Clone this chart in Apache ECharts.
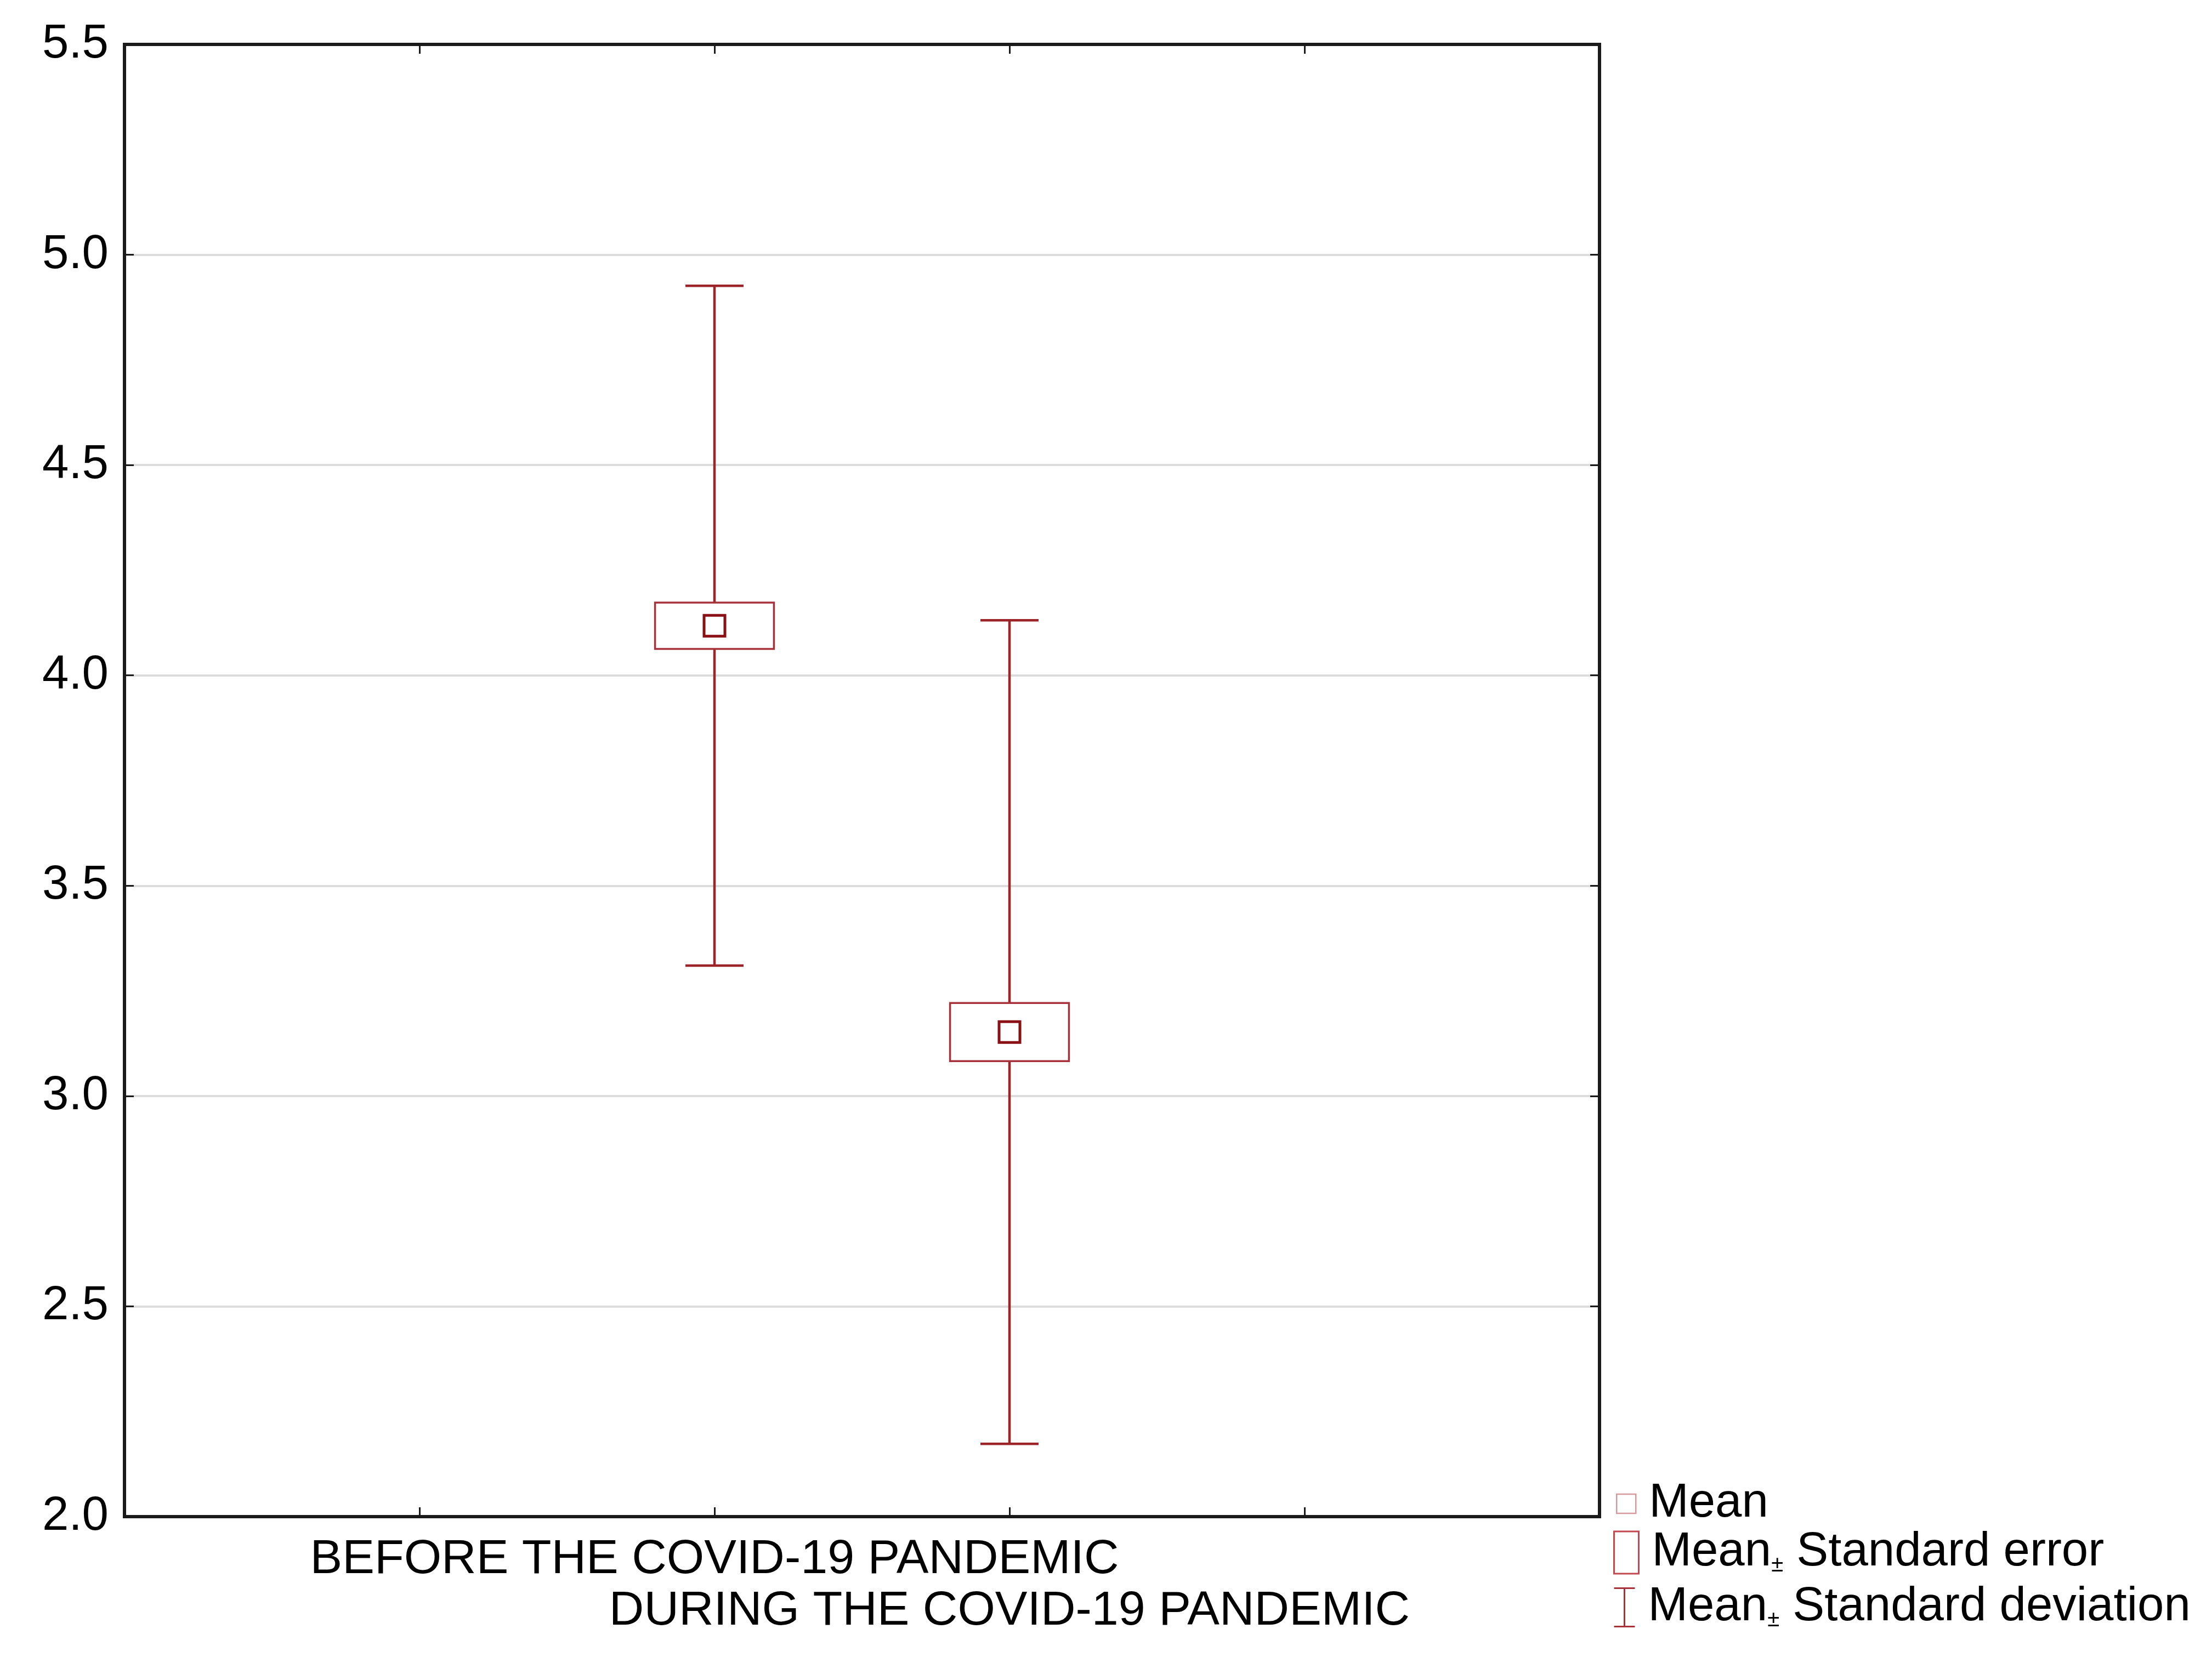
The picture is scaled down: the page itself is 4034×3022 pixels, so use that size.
<!DOCTYPE html>
<html><head><meta charset="utf-8">
<script src="https://cdn.jsdelivr.net/npm/echarts@6/dist/echarts.min.js"></script>
<style>html,body{margin:0;padding:0;background:#fff}#chart{width:4034px;height:3022px}</style>
</head><body><div id="chart"></div>
<script>
// ---- data ----
const groups = ['BEFORE THE COVID-19 PANDEMIC', 'DURING THE COVID-19 PANDEMIC'];
const xSlots = ['', '', groups[0], groups[1], '', ''];
const means = [4.118, 3.152];
const stdErrors = [0.055, 0.069];
const stdDevs = [0.808, 0.979];
const yTicks = [2.0, 2.5, 3.0, 3.5, 4.0, 4.5, 5.0, 5.5];
const legendNames = ['Mean', 'Mean± Standard error', 'Mean± Standard deviation'];

// ---- styling ----
const FONT = '"Liberation Sans", Arial, sans-serif';
const RED_SD = '#9c2328';
const RED_SE = '#a8323a';
const RED_MEAN = '#8a1015';
const FRAME = '#1a1a1a';

const slotIndex = groups.map(g => xSlots.indexOf(g));
const sdData = groups.map((g, i) => [slotIndex[i], means[i], stdDevs[i]]);
const seData = groups.map((g, i) => [slotIndex[i], means[i], stdErrors[i]]);
const meanData = groups.map((g, i) => [slotIndex[i], means[i]]);

const yMin = yTicks[0], yMax = yTicks[yTicks.length - 1], yStep = yTicks[1] - yTicks[0];

const chart = echarts.init(document.getElementById('chart'), null, {renderer: 'canvas'});

function legendText(name) {
  return '{g|}' + name.replace('±', '{pm|±}');
}
const legendTextStyle = {
  fontSize: 87, fontFamily: FONT, color: '#000', lineHeight: 87,
  rich: {
    g: {width: 19},
    pm: {fontSize: 40, fontFamily: FONT, color: '#000', verticalAlign: 'bottom', lineHeight: 60}
  }
};

const option = {
  animation: false,
  backgroundColor: '#fff',
  grid: {left: 227, top: 81, width: 2690, height: 2685, show: true, borderColor: FRAME, borderWidth: 6, backgroundColor: 'transparent', z: 10},
  xAxis: [{
    type: 'category', data: xSlots, boundaryGap: false, position: 'bottom',
    axisLine: {show: false},
    axisTick: {show: true, inside: true, length: 17, interval: 0, lineStyle: {color: FRAME, width: 3}},
    axisLabel: {
      interval: 0, margin: 32, fontSize: 88, fontFamily: FONT, color: '#000', lineHeight: 94,
      formatter: (v) => (groups.indexOf(v) % 2 === 1 ? '\n' + v : v)
    },
    splitLine: {show: false}
  }, {
    type: 'category', data: xSlots, boundaryGap: false, position: 'top',
    axisLine: {show: false},
    axisTick: {show: true, inside: true, length: 17, interval: 0, lineStyle: {color: FRAME, width: 3}},
    axisLabel: {show: false}, splitLine: {show: false}
  }],
  yAxis: [{
    type: 'value', min: yMin, max: yMax, interval: yStep, position: 'left',
    axisLine: {show: false},
    axisTick: {show: true, inside: true, length: 17, lineStyle: {color: FRAME, width: 3}},
    axisLabel: {margin: 29, fontSize: 87, fontFamily: FONT, color: '#000', padding: [0, 0, 22, 0],
      formatter: v => v.toFixed(1)},
    splitLine: {show: true, showMinLine: false, showMaxLine: false, lineStyle: {color: '#dcdcdc', width: 4}}
  }, {
    type: 'value', min: yMin, max: yMax, interval: yStep, position: 'right',
    axisLine: {show: false},
    axisTick: {show: true, inside: true, length: 17, lineStyle: {color: FRAME, width: 3}},
    axisLabel: {show: false}, splitLine: {show: false}
  }],
  legend: [
    {
      data: [{name: legendNames[0], icon: 'rect'}], selectedMode: false, padding: 0,
      left: 2947, top: 2699, itemWidth: 35, itemHeight: 35,
      itemStyle: {color: '#fff', borderColor: '#d49a9c', borderWidth: 2.5},
      textStyle: legendTextStyle, formatter: legendText
    },
    {
      data: [{name: legendNames[1], icon: 'rect'}], selectedMode: false, padding: 0,
      left: 2942, top: 2788, itemWidth: 45, itemHeight: 77,
      itemStyle: {color: '#fff', borderColor: '#c0484e', borderWidth: 3},
      textStyle: legendTextStyle, formatter: legendText
    },
    {
      data: [{name: legendNames[2], icon: 'path://M0,0L38,0M19,0L19,70M0,70L38,70'}], selectedMode: false, padding: 0,
      left: 2942, top: 2888, itemWidth: 38, itemHeight: 70,
      itemStyle: {color: 'transparent', borderColor: RED_SE, borderWidth: 3},
      textStyle: legendTextStyle, formatter: legendText
    }
  ],
  series: [
    {
      name: legendNames[2], type: 'custom', data: sdData, z: 3,
      itemStyle: {color: RED_SD},
      renderItem: function (params, api) {
        const x = api.value(0), m = api.value(1), sd = api.value(2);
        const top = api.coord([x, m + sd]);
        const bot = api.coord([x, m - sd]);
        const capW = api.size([1, 0])[0] * 0.197;
        const st = {stroke: RED_SD, lineWidth: 4.5, fill: null};
        return {type: 'group', children: [
          {type: 'line', shape: {x1: top[0], y1: top[1], x2: bot[0], y2: bot[1]}, style: st},
          {type: 'line', shape: {x1: top[0] - capW / 2, y1: top[1], x2: top[0] + capW / 2, y2: top[1]}, style: st},
          {type: 'line', shape: {x1: bot[0] - capW / 2, y1: bot[1], x2: bot[0] + capW / 2, y2: bot[1]}, style: st}
        ]};
      }
    },
    {
      name: legendNames[1], type: 'custom', data: seData, z: 4,
      itemStyle: {color: RED_SE},
      renderItem: function (params, api) {
        const x = api.value(0), m = api.value(1), se = api.value(2);
        const top = api.coord([x, m + se]);
        const bot = api.coord([x, m - se]);
        const w = api.size([1, 0])[0] * 0.403;
        return {type: 'rect', shape: {x: top[0] - w / 2, y: top[1], width: w, height: bot[1] - top[1]},
          style: {fill: '#fff', stroke: RED_SE, lineWidth: 3.5}};
      }
    },
    {
      name: legendNames[0], type: 'scatter', data: meanData, z: 5,
      symbol: 'rect', symbolSize: 38,
      itemStyle: {color: '#fff', borderColor: RED_MEAN, borderWidth: 5, opacity: 1}
    }
  ]
};
chart.setOption(option);
</script>
</body></html>
